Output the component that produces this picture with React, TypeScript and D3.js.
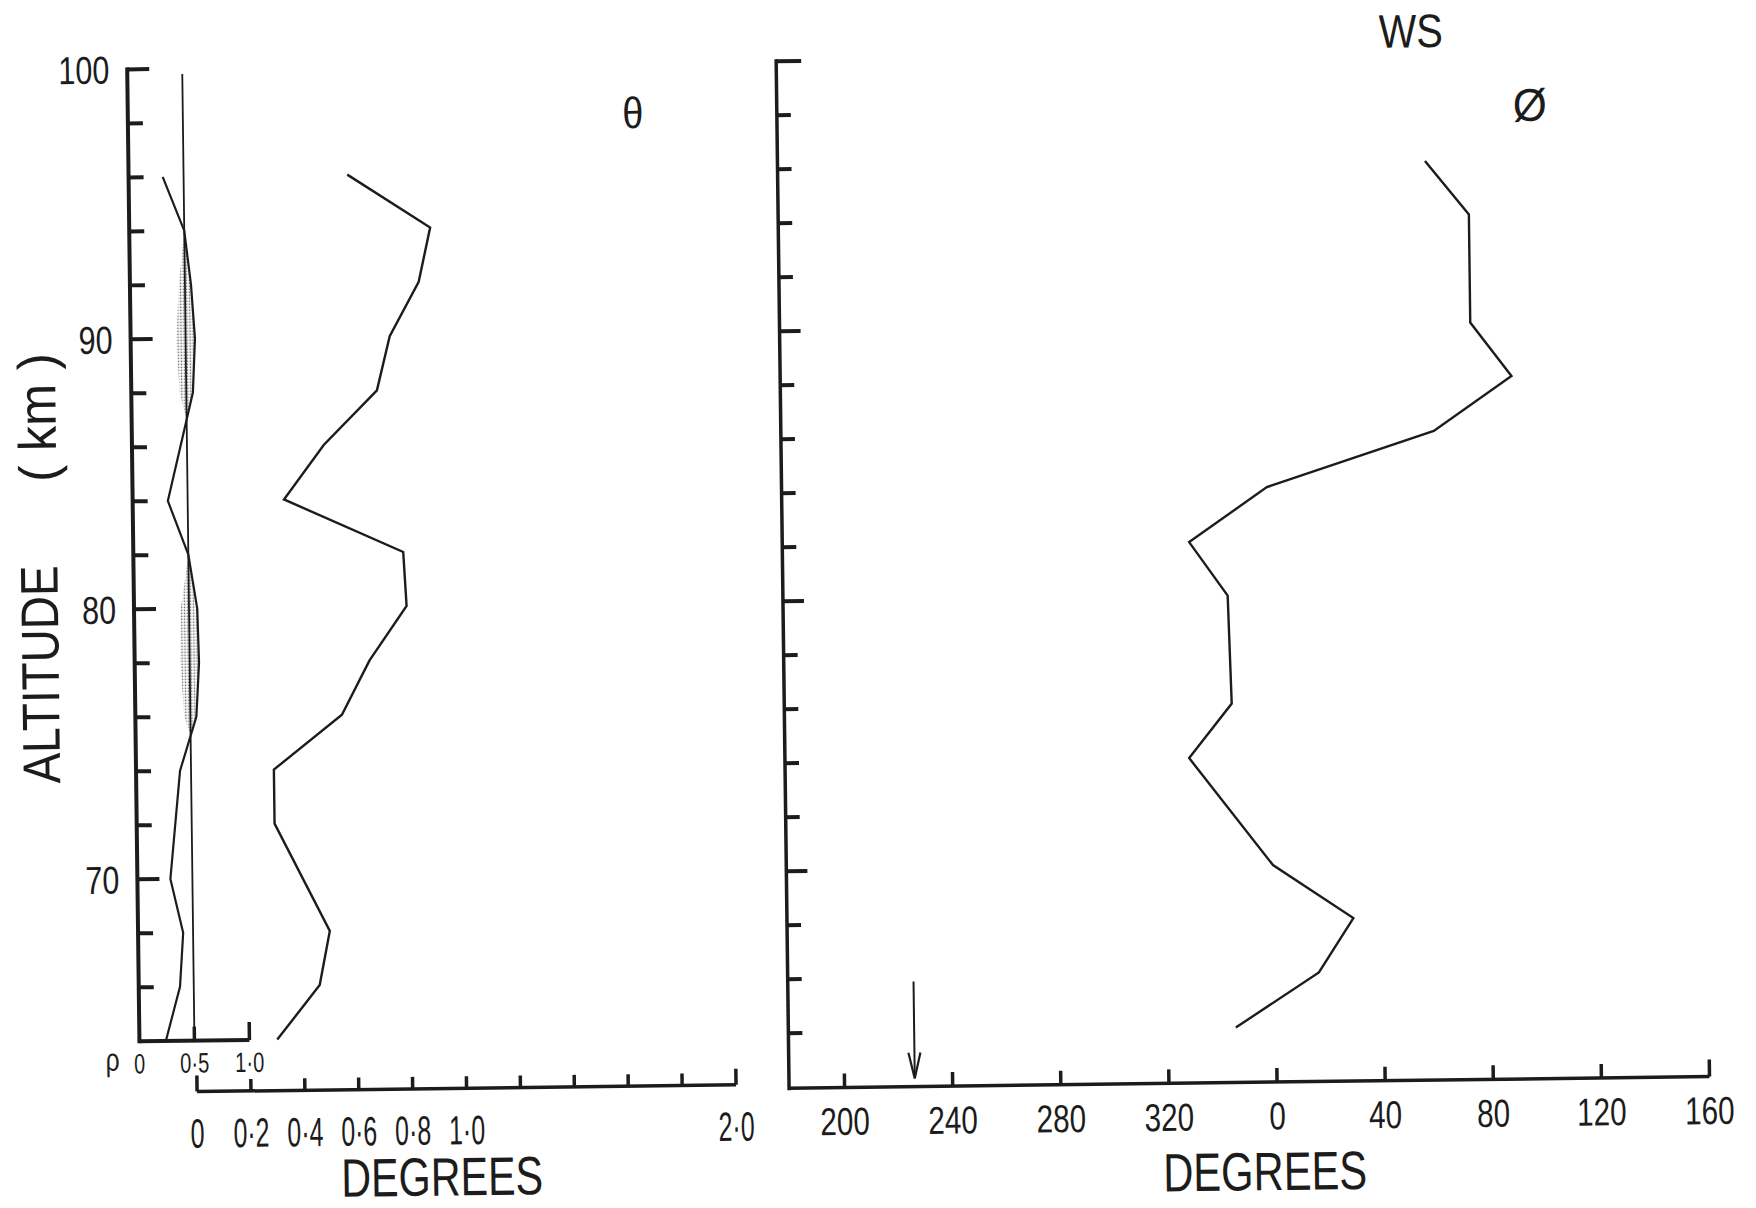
import React from 'react';
import * as d3 from 'd3';

// Altitude profile samples (km)
const rhoAltitude = [96, 94, 92, 90, 88, 84, 82, 80, 78, 76, 74, 72, 70, 68, 66, 64];
const rhoValue = [0.31, 0.5, 0.555, 0.585, 0.56, 0.32, 0.5, 0.575, 0.585, 0.555, 0.4, 0.35, 0.3, 0.41, 0.375, 0.24];

const thetaAltitude = [96, 94, 92, 90, 88, 86, 84, 82, 80, 78, 76, 74, 72, 68, 66, 64];
const thetaValue = [0.6, 0.905, 0.86, 0.75, 0.7, 0.5, 0.35, 0.79, 0.8, 0.66, 0.555, 0.3, 0.3, 0.5, 0.46, 0.3];

// Direction, unwrapped past 360 so the profile stays continuous
const phiAltitude = [96, 94, 90, 88, 86, 84, 82, 80, 76, 74, 70, 68, 66, 64];
const phiValue = [419, 435, 435, 450, 421, 359, 330, 344, 345, 329, 359.5, 389, 376, 345];

// Wind shear direction marker
const windShearDirection = 226;

// Axis ticks and labels
const altitudeTicks = [66, 68, 70, 72, 74, 76, 78, 80, 82, 84, 86, 88, 90, 92, 94, 96, 98, 100];
const phiAltitudeTicks = [64, ...altitudeTicks];
const altitudeLabels = [100, 90, 80, 70];
const rhoLabels = [
  { v: 0, t: '0' },
  { v: 0.5, t: '0·5' },
  { v: 1, t: '1·0' },
];
const thetaTicks = [0, 0.2, 0.4, 0.6, 0.8, 1.0, 1.2, 1.4, 1.6, 1.8, 2.0];
const thetaLabels = [
  { v: 0, t: '0' },
  { v: 0.2, t: '0·2' },
  { v: 0.4, t: '0·4' },
  { v: 0.6, t: '0·6' },
  { v: 0.8, t: '0·8' },
  { v: 1.0, t: '1·0' },
  { v: 2.0, t: '2·0' },
];
const phiTicks = [200, 240, 280, 320, 360, 400, 440, 480, 520];

const FONT = "'Liberation Sans', Arial, sans-serif";
const INK = '#1c1c1c';

// Narrow drafting-style lettering: glyphs squeezed to a set width
function Lettering(props: {
  x: number;
  y: number;
  size: number;
  width: number;
  children: React.ReactNode;
  rotate?: number;
}) {
  const { x, y, size, width, children, rotate } = props;
  return (
    <text
      transform={`translate(${x},${y})${rotate ? ` rotate(${rotate})` : ''}`}
      x={-width / 2}
      y={0}
      fontFamily={FONT}
      fontSize={size}
      textLength={width}
      lengthAdjust="spacingAndGlyphs"
      fill={INK}
      stroke="none"
    >
      {children}
    </text>
  );
}

export default function App() {
  const W = 1756;
  const H = 1208;

  const y = d3.scaleLinear().domain([64, 100]).range([1032, 60]);
  const rhoX = d3.scaleLinear().domain([0, 1]).range([134, 244]);
  const thetaX = d3.scaleLinear().domain([0, 2]).range([191, 730]);
  const phiX = d3.scaleLinear().domain([200, 520]).range([838.5, 1703.5]);

  const leftAxisX = rhoX(0);
  const rhoAxisY = y(64);
  const thetaAxisY = 1083;
  const rightAxisX = 783;
  const phiAxisY = 1087;
  const x05 = rhoX(0.5);

  const idxRho = d3.range(rhoAltitude.length);
  const idxTheta = d3.range(thetaAltitude.length);
  const idxPhi = d3.range(phiAltitude.length);

  const rhoLine = d3
    .line<number>()
    .x((i) => rhoX(rhoValue[i]))
    .y((i) => y(rhoAltitude[i]))(idxRho) as string;

  const thetaLine = d3
    .line<number>()
    .x((i) => thetaX(thetaValue[i]))
    .y((i) => y(thetaAltitude[i]))(idxTheta) as string;

  const phiLine = d3
    .line<number>()
    .x((i) => phiX(phiValue[i]))
    .y((i) => y(phiAltitude[i]))(idxPhi) as string;

  // Region between the 0.5 reference line and the correlation curve
  const rhoExcess = d3
    .area<number>()
    .y((i) => y(rhoAltitude[i]))
    .x0(() => x05)
    .x1((i) => rhoX(rhoValue[i]))(idxRho) as string;

  const arrowX = phiX(windShearDirection);

  // label width per character count for the tick numerals
  const numWidth = (t: string, digit: number, dot: number) =>
    t.split('').reduce((s, c) => s + (c === '·' ? dot : digit), 0);

  return (
    <svg
      width={W}
      height={H}
      viewBox={`0 0 ${W} ${H}`}
      style={{ position: 'absolute', left: 0, top: 0, background: '#fff' }}
    >
      <defs>
        <pattern id="stipple" width="3" height="3" patternUnits="userSpaceOnUse">
          <circle cx="1.5" cy="1.5" r="0.85" fill="#555" />
        </pattern>
        <clipPath id="rightOfHalf" clipPathUnits="userSpaceOnUse">
          <rect x={x05} y={0} width={200} height={H} />
        </clipPath>
      </defs>
      <rect x={0} y={0} width={W} height={H} fill="#fff" />
      <g transform="rotate(-0.72 878 604)" fill="none" stroke={INK}>
        {/* ---------- left panel: correlation and angle ---------- */}
        {/* stippled excess over 0.5, drawn symmetric about the reference line */}
        <g clipPath="url(#rightOfHalf)">
          <path d={rhoExcess} fill="url(#stipple)" stroke="none" />
        </g>
        <g transform={`translate(${2 * x05},0) scale(-1,1)`}>
          <g clipPath="url(#rightOfHalf)">
            <path d={rhoExcess} fill="url(#stipple)" stroke="none" />
          </g>
        </g>

        {/* altitude axis */}
        <line x1={leftAxisX} x2={leftAxisX} y1={y(100) - 2} y2={rhoAxisY + 2} strokeWidth={4} />
        {altitudeTicks.map((a) => (
          <line
            key={'lt' + a}
            x1={leftAxisX}
            x2={leftAxisX + (a % 10 === 0 ? 22 : 15)}
            y1={y(a)}
            y2={y(a)}
            strokeWidth={4}
          />
        ))}
        {altitudeLabels.map((a) => {
          const w = String(a).length * 17;
          return (
            <Lettering key={'ll' + a} x={116 - w / 2} y={y(a) + 14} size={39} width={w}>
              {a}
            </Lettering>
          );
        })}

        {/* correlation axis */}
        <line x1={leftAxisX} x2={rhoX(1)} y1={rhoAxisY} y2={rhoAxisY} strokeWidth={4} />
        <line x1={rhoX(1)} x2={rhoX(1)} y1={rhoAxisY} y2={rhoAxisY - 18} strokeWidth={3.5} />
        <line x1={x05} x2={x05} y1={rhoAxisY} y2={rhoAxisY - 14} strokeWidth={3.5} />
        <line x1={x05} x2={x05} y1={y(99.8)} y2={rhoAxisY} strokeWidth={1.8} />
        {rhoLabels.map((d) => (
          <Lettering key={'rl' + d.v} x={rhoX(d.v)} y={1064} size={28} width={numWidth(d.t, 11, 7)}>
            {d.t}
          </Lettering>
        ))}
        <Lettering x={107} y={1061} size={32} width={14}>
          ρ
        </Lettering>
        <path d={rhoLine} strokeWidth={2.2} strokeLinejoin="miter" />

        {/* angle axis */}
        <line x1={thetaX(0)} x2={thetaX(2)} y1={thetaAxisY} y2={thetaAxisY} strokeWidth={3.5} />
        {thetaTicks.map((v, i) => (
          <line
            key={'tt' + i}
            x1={thetaX(v)}
            x2={thetaX(v)}
            y1={thetaAxisY}
            y2={thetaAxisY - (v === 0 || v === 2 ? 16 : 12)}
            strokeWidth={3.5}
          />
        ))}
        {thetaLabels.map((d) => (
          <Lettering key={'tl' + d.v} x={thetaX(d.v)} y={1139} size={41} width={numWidth(d.t, 14, 8)}>
            {d.t}
          </Lettering>
        ))}
        <Lettering x={435} y={1190} size={54} width={202}>
          DEGREES
        </Lettering>
        <path d={thetaLine} strokeWidth={2.4} strokeLinejoin="miter" />
        <Lettering x={639} y={125} size={44} width={21}>
          θ
        </Lettering>

        {/* axis title */}
        <Lettering x={58} y={664} size={53} width={218} rotate={-90}>
          ALTITUDE
        </Lettering>
        <Lettering x={58} y={407} size={53} width={129} rotate={-90}>
          {'( km )'}
        </Lettering>

        {/* ---------- right panel: wind direction ---------- */}
        <line x1={rightAxisX} x2={rightAxisX} y1={y(100) - 2} y2={phiAxisY + 2} strokeWidth={3.5} />
        {phiAltitudeTicks.map((a) => (
          <line
            key={'rt' + a}
            x1={rightAxisX}
            x2={rightAxisX + (a === 100 ? 25 : a % 10 === 0 ? 21 : 14)}
            y1={y(a)}
            y2={y(a)}
            strokeWidth={4}
          />
        ))}
        <line x1={rightAxisX} x2={phiX(520)} y1={phiAxisY} y2={phiAxisY} strokeWidth={3.5} />
        {phiTicks.map((v) => (
          <line
            key={'pt' + v}
            x1={phiX(v)}
            x2={phiX(v)}
            y1={phiAxisY}
            y2={phiAxisY - (v === 520 ? 17 : 14)}
            strokeWidth={3.5}
          />
        ))}
        {phiTicks.map((v) => {
          const t = String(v % 360);
          return (
            <Lettering key={'pl' + v} x={phiX(v)} y={1134.5} size={39} width={t.length * 16.5}>
              {t}
            </Lettering>
          );
        })}
        <Lettering x={1258} y={1195} size={54} width={204}>
          DEGREES
        </Lettering>
        <path d={phiLine} strokeWidth={2.4} strokeLinejoin="miter" />

        {/* wind shear direction arrow */}
        <line x1={arrowX} x2={arrowX} y1={phiAxisY - 105} y2={phiAxisY - 12} strokeWidth={2} />
        <path
          d={`M${arrowX - 6},${phiAxisY - 34} L${arrowX},${phiAxisY - 8} L${arrowX + 6},${phiAxisY - 34}`}
          strokeWidth={2.2}
        />

        <Lettering x={1418} y={54} size={47} width={64}>
          WS
        </Lettering>
        <Lettering x={1536} y={129} size={46} width={34}>
          Ø
        </Lettering>
      </g>
    </svg>
  );
}
